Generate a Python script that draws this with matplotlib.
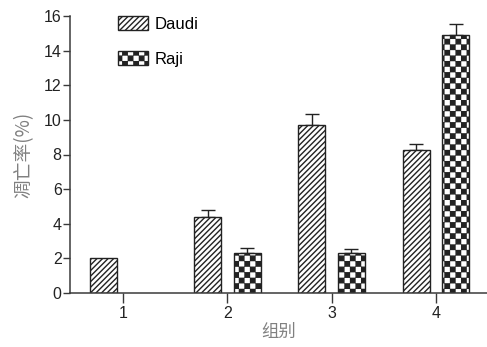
import numpy as np
import matplotlib
matplotlib.use("Agg")
import matplotlib.pyplot as plt
from matplotlib import hatch as mhatch
from matplotlib.path import Path

# ---------------- data ----------------
groups = ["1", "2", "3", "4"]
daudi = [2.02, 4.40, 9.68, 8.27]
daudi_err = [0.0, 0.40, 0.68, 0.35]
raji = [np.nan, 2.33, 2.29, 14.88]
raji_err = [0.0, 0.25, 0.23, 0.66]
series_names = ["Daudi", "Raji"]
y_ticks = [0, 2, 4, 6, 8, 10, 12, 14, 16]


# ------------- checkerboard hatch (replaces the '*' star hatch) -------------
class Checker(mhatch.HatchPatternBase):
    def __init__(self, hatch, density):
        self.n = 18 if hatch.count('*') > 0 else 0
        self.cells = []
        if self.n:
            for i in range(self.n):
                for j in range(self.n):
                    if (i + j) % 2 == 0:
                        self.cells.append((i, j))
        self.num_vertices = len(self.cells) * 5

    def set_vertices_and_codes(self, vertices, codes):
        s = 1.0 / self.n
        m = s * 0.1
        k = 0
        for (i, j) in self.cells:
            x0, y0 = i * s + m, j * s + m
            x1, y1 = (i + 1) * s - m, (j + 1) * s - m
            vertices[k:k + 5] = [(x0, y0), (x1, y0), (x1, y1), (x0, y1), (x0, y0)]
            codes[k:k + 5] = [Path.MOVETO, Path.LINETO, Path.LINETO, Path.LINETO,
                              Path.CLOSEPOLY]
            k += 5


mhatch._hatch_types = [t for t in mhatch._hatch_types if t is not mhatch.Stars] + [Checker]

plt.rcParams['font.family'] = ['Liberation Sans', 'Noto Sans CJK SC', 'DejaVu Sans']
plt.rcParams['hatch.linewidth'] = 1.0
plt.rcParams['hatch.color'] = 'black'

fig = plt.figure(figsize=(4.87, 3.47), dpi=100)
ax = fig.add_axes([70 / 487, 54 / 347, 1 - 70 / 487, 277 / 347])

x = np.arange(1, len(groups) + 1)
w = 0.26
off = 0.19

axis_col = '#3a3a3a'
ax.bar(x - off, daudi, width=w, facecolor='white', edgecolor='#222222',
       linewidth=1.0, hatch='//////', label=series_names[0], zorder=2)
ax.bar(x + off, raji, width=w, facecolor='white', edgecolor='#222222',
       linewidth=1.0, hatch='*', label=series_names[1], zorder=2)

d_err = np.array(daudi_err)
r_err = np.array(raji_err)
mask_d = d_err > 0
ax.errorbar((x - off)[mask_d], np.array(daudi)[mask_d],
            yerr=[np.zeros(mask_d.sum()), d_err[mask_d]], fmt='none',
            ecolor='#222222', elinewidth=1.0, capsize=4.7, capthick=1.0, zorder=1)
raji_arr = np.array(raji)
mask_r = (r_err > 0) & ~np.isnan(raji_arr)
ax.errorbar((x + off)[mask_r], raji_arr[mask_r],
            yerr=[np.zeros(mask_r.sum()), r_err[mask_r]], fmt='none',
            ecolor='#222222', elinewidth=1.0, capsize=4.7, capthick=1.0, zorder=1)

ax.set_xlim(0.49, 4.49)
ax.set_ylim(0, 16)
ax.set_yticks(y_ticks)
ax.set_xticks(x)
ax.set_xticklabels(groups)

for s in ['top', 'right']:
    ax.spines[s].set_visible(False)
for s in ['left', 'bottom']:
    ax.spines[s].set_color(axis_col)
    ax.spines[s].set_linewidth(1.1)

ax.tick_params(axis='y', direction='out', length=5, width=1.0, color=axis_col,
               labelsize=11.5, labelcolor='#222222', pad=1)
ax.tick_params(axis='x', direction='out', length=7, width=1.0, color=axis_col,
               labelsize=11.5, labelcolor='#222222', pad=2)

ax.set_ylabel('凋亡率(%)', fontsize=13.5, color='#808080',
              family=['Noto Sans CJK SC', 'DejaVu Sans'], labelpad=7)
ax.set_xlabel('组别', fontsize=12.5, color='#808080',
              family=['Noto Sans CJK SC', 'DejaVu Sans'], labelpad=2)

leg = ax.legend(loc='upper left', bbox_to_anchor=(0.115, 1.0), frameon=False,
                fontsize=12, handlelength=1.8, handleheight=0.95,
                handletextpad=0.4, labelspacing=1.15, borderpad=0,
                borderaxespad=0)

fig.savefig('out.png', dpi=100)
